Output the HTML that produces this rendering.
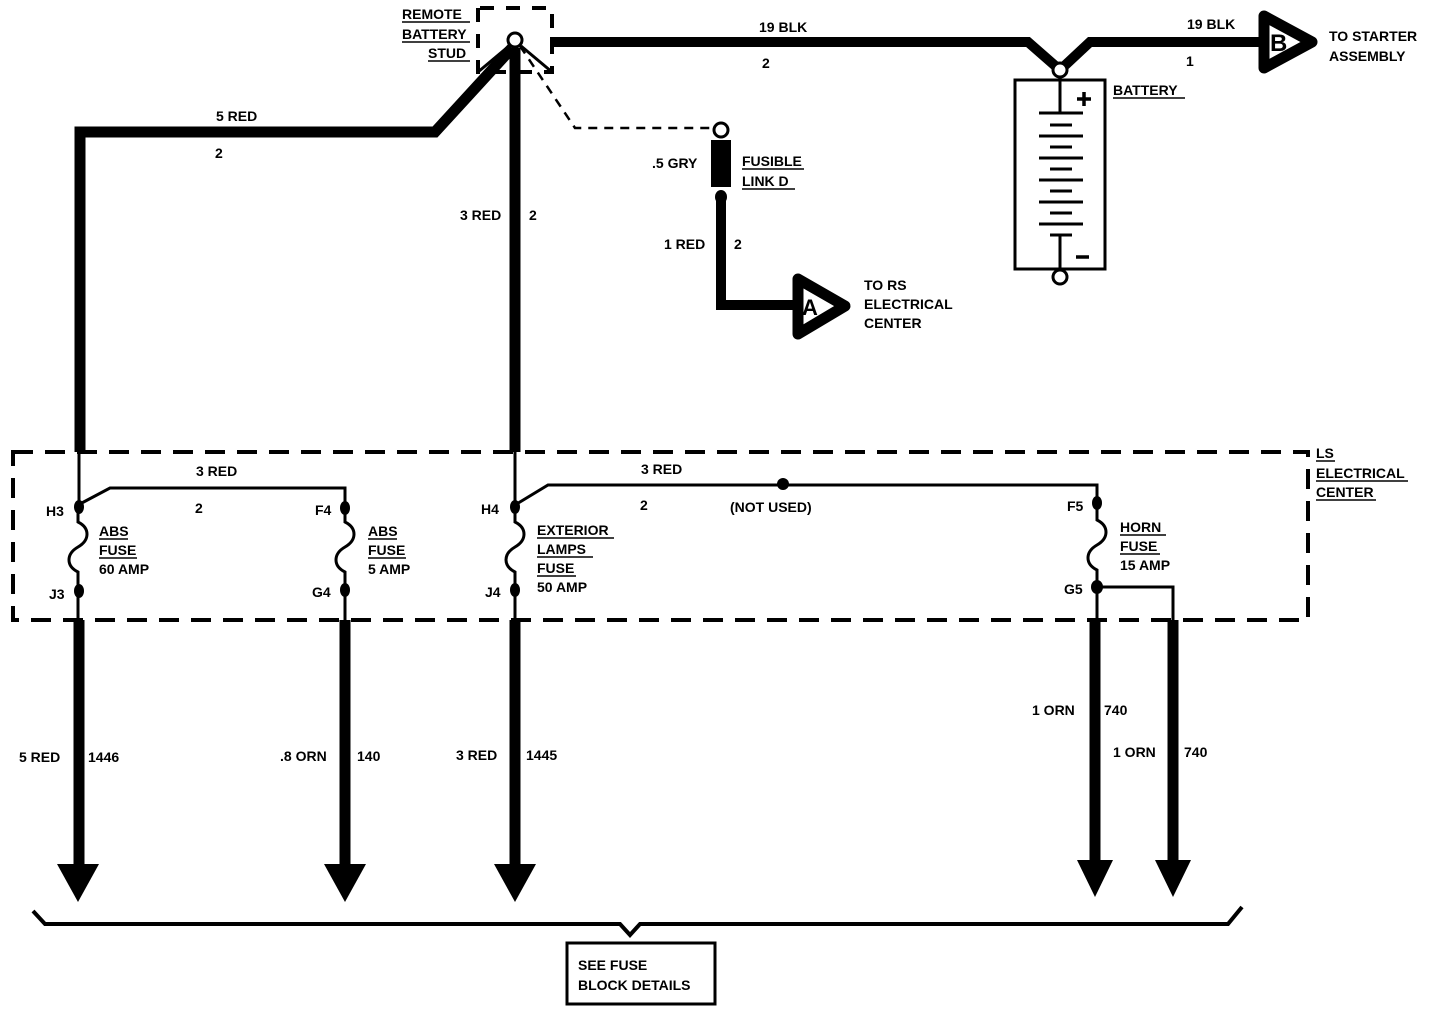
<!DOCTYPE html>
<html><head><meta charset="utf-8"><style>
html,body{margin:0;padding:0;background:#fff;}
svg{display:block}
text{font-family:"Liberation Sans",sans-serif;font-weight:bold;font-size:14px;fill:#000}
</style></head><body>
<svg width="1440" height="1012" viewBox="0 0 1440 1012" xmlns="http://www.w3.org/2000/svg">
<g fill="none" stroke="#000">
<path d="M478,8 V72 H552 V8 H478" stroke-width="4" stroke-dasharray="14,12"/>
<path d="M550,42 H1028 L1060,70 L1090,42 H1262" stroke-width="10"/>
<path d="M512,48 L435,132 H80 V452" stroke-width="11" stroke-linejoin="miter"/>
<path d="M515,48 V452" stroke-width="11"/>
<path d="M509,46 L478,72 M521,46 L552,72" stroke-width="3"/>
<path d="M520,46 L575,128 H713" stroke-width="2.5" stroke-dasharray="9,7"/>
<path d="M721,197 V305 H796" stroke-width="10"/>
<rect x="1015" y="80" width="90" height="189" stroke-width="3"/>
<path d="M1060,77 V112 M1060,235 V273" stroke-width="3"/>
<path d="M1039,113 H1083 M1039,136 H1083 M1039,158 H1083 M1039,180 H1083 M1039,202 H1083 M1039,224 H1083" stroke-width="3"/>
<path d="M1050,125 H1072 M1050,147 H1072 M1050,169 H1072 M1050,191 H1072 M1050,213 H1072 M1050,235 H1072" stroke-width="3"/>
<path d="M1084,92 V106 M1077,99 H1091 M1076,257 H1089" stroke-width="3.5"/>
<path d="M13,452 H1308 V620 H13 Z" stroke-width="4" stroke-dasharray="20,12"/>
<path d="M79,452 V505" stroke-width="3"/>
<path d="M515,452 V505" stroke-width="3"/>
<g stroke-width="3">
<path d="M78,505 V522 C90,528 90,540 78,547 C66,554 66,566 78,572 V620"/>
<path d="M78,505 L110,488 H345 V505"/>
<path d="M345,505 V522 C357,528 357,540 345,547 C333,554 333,566 345,572 V620"/>
<path d="M515,505 V522 C527,528 527,540 515,547 C503,554 503,566 515,572 V620"/>
<path d="M515,505 L548,485 H1097 V503"/>
<path d="M1097,503 V520 C1109,526 1109,538 1097,545 C1085,552 1085,564 1097,570 V620"/>
<path d="M1097,587 H1173 V620"/>
</g>
<g stroke-width="11">
<path d="M79,620 V866"/><path d="M345,620 V866"/><path d="M515,620 V866"/>
<path d="M1095,620 V862"/><path d="M1173,620 V862"/>
</g>
<path d="M33,911 L45,924 H620 L630,935 L640,924 H1228 L1242,907" stroke-width="4"/>
<rect x="567" y="943" width="148" height="61" stroke-width="3"/>
<path d="M798,279 L845,306 L798,334 Z" stroke-width="11" stroke-linejoin="round"/>
<path d="M1264,16 L1312,42 L1264,68 Z" stroke-width="11" stroke-linejoin="round"/>
<g stroke-width="1.5">
<path d="M402,22 H470 M402,42 H470 M428,61 H470"/>
<path d="M742,169 H804 M742,189 H795"/>
<path d="M1113,98 H1185"/>
<path d="M1316,461 H1335 M1316,481 H1408 M1316,500 H1376"/>
<path d="M99,539 H128 M99,558 H137"/>
<path d="M368,539 H397 M368,558 H406"/>
<path d="M537,538 H614 M537,557 H593 M537,576 H576"/>
<path d="M1120,535 H1166 M1120,554 H1160"/>
</g>
</g>
<g fill="#000">
<rect x="711" y="140" width="20" height="47"/>
<ellipse cx="721" cy="197" rx="6" ry="7"/>
<ellipse cx="79" cy="507" rx="5" ry="7"/><ellipse cx="79" cy="591" rx="5" ry="7"/>
<ellipse cx="345" cy="508" rx="5" ry="7"/><ellipse cx="345" cy="590" rx="5" ry="7"/>
<ellipse cx="515" cy="507" rx="5" ry="7"/><ellipse cx="515" cy="590" rx="5" ry="7"/>
<ellipse cx="1097" cy="503" rx="5" ry="7"/><ellipse cx="1097" cy="587" rx="6" ry="7"/>
<circle cx="783" cy="484" r="6"/>
<path d="M57,864 H99 L78,902 Z"/><path d="M324,864 H366 L345,902 Z"/><path d="M494,864 H536 L515,902 Z"/>
<path d="M1077,860 H1113 L1095,897 Z"/><path d="M1155,860 H1191 L1173,897 Z"/>
</g>
<g fill="#fff" stroke="#000" stroke-width="3">
<circle cx="515" cy="40" r="7"/>
<circle cx="721" cy="130" r="7"/>
<circle cx="1060" cy="70" r="7"/>
<circle cx="1060" cy="277" r="7"/>
</g>
<text x="402" y="19">REMOTE</text>
<text x="402" y="39">BATTERY</text>
<text x="428" y="58">STUD</text>
<text x="759" y="32">19 BLK</text>
<text x="762" y="68">2</text>
<text x="1187" y="29">19 BLK</text>
<text x="1186" y="66">1</text>
<text x="1270" y="51" style="font-size:24px">B</text>
<text x="1329" y="41">TO STARTER</text>
<text x="1329" y="61">ASSEMBLY</text>
<text x="1113" y="95">BATTERY</text>
<text x="216" y="121">5 RED</text>
<text x="215" y="158">2</text>
<text x="460" y="220">3 RED</text>
<text x="529" y="220">2</text>
<text x="652" y="168">.5 GRY</text>
<text x="742" y="166">FUSIBLE</text>
<text x="742" y="186">LINK D</text>
<text x="664" y="249">1 RED</text>
<text x="734" y="249">2</text>
<text x="802" y="315" style="font-size:22px">A</text>
<text x="864" y="290">TO RS</text>
<text x="864" y="309">ELECTRICAL</text>
<text x="864" y="328">CENTER</text>
<text x="1316" y="458">LS</text>
<text x="1316" y="478">ELECTRICAL</text>
<text x="1316" y="497">CENTER</text>
<text x="196" y="476">3 RED</text>
<text x="195" y="513">2</text>
<text x="641" y="474">3 RED</text>
<text x="640" y="510">2</text>
<text x="730" y="512">(NOT USED)</text>
<text x="46" y="516">H3</text><text x="49" y="599">J3</text>
<text x="315" y="515">F4</text><text x="312" y="597">G4</text>
<text x="481" y="514">H4</text><text x="485" y="597">J4</text>
<text x="1067" y="511">F5</text><text x="1064" y="594">G5</text>
<text x="99" y="536">ABS</text><text x="99" y="555">FUSE</text><text x="99" y="574">60 AMP</text>
<text x="368" y="536">ABS</text><text x="368" y="555">FUSE</text><text x="368" y="574">5 AMP</text>
<text x="537" y="535">EXTERIOR</text><text x="537" y="554">LAMPS</text><text x="537" y="573">FUSE</text><text x="537" y="592">50 AMP</text>
<text x="1120" y="532">HORN</text><text x="1120" y="551">FUSE</text><text x="1120" y="570">15 AMP</text>
<text x="19" y="762">5 RED</text><text x="88" y="762">1446</text>
<text x="280" y="761">.8 ORN</text><text x="357" y="761">140</text>
<text x="456" y="760">3 RED</text><text x="526" y="760">1445</text>
<text x="1032" y="715">1 ORN</text><text x="1104" y="715">740</text>
<text x="1113" y="757">1 ORN</text><text x="1184" y="757">740</text>
<text x="578" y="970">SEE FUSE</text>
<text x="578" y="990">BLOCK DETAILS</text>
</svg>
</body></html>
